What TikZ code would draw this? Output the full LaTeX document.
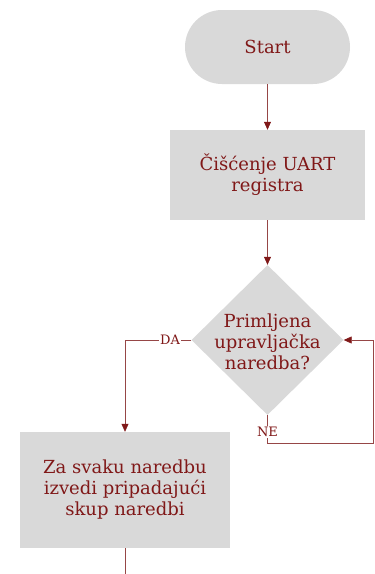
\documentclass[tikz,border=0pt]{standalone}
\usepackage{fontspec}
\setmainfont{DejaVu Serif}
\usetikzlibrary{shapes.geometric, arrows.meta}
\definecolor{wine}{RGB}{128,24,24}
\definecolor{wire}{RGB}{150,70,70}
\definecolor{boxgrey}{RGB}{217,217,217}

\begin{document}
\begin{tikzpicture} [x = 1pt, y = -1pt,
  block/.style = {fill=boxgrey, text=wine, align=center, font=\fontsize{18}{21}\selectfont},
  flow/.style = {draw=wire, line width=0.6pt},
  arr/.style = {flow, -{Triangle[length=8pt, width=7pt, color=wine]}},
  tag/.style = {fill=white, text=wine, inner sep=1pt, font=\fontsize{13}{15}\selectfont}]
\useasboundingbox (0, 0) rectangle (375, 574);
\node[block, minimum width=165pt, minimum height=74pt, rounded corners=37pt] (start) at (267.5, 47){Start};
\node[block, minimum width=195pt, minimum height=90pt] (clear) at (267.5, 175){Čišćenje UART\\registra};
\node[block, diamond, aspect=1, inner sep=0pt, minimum width=152pt, minimum height=150pt] (check) at (267.5, 340){};
\node[block, fill=none] (checktxt) at (267.5, 342){Primljena\\upravljačka\\naredba?};
\node[block, minimum width=210pt, minimum height=116pt] (exec) at (125, 490){Za svaku naredbu\\izvedi pripadajući\\skup naredbi};
\coordinate (loop) at (373, 443);
\coordinate (down) at (125, 574);
\draw[arr] (start) -- (clear);
\draw[arr] (clear) -- (check);
\draw[arr] (check.west) -| node[tag, pos=0.16]{DA} (exec.north);
\draw[arr] (check.south) |- node[tag, pos=0.3]{NE} (loop) |- (check.east);
\draw[flow] (exec) -- (down);
\end{tikzpicture}
\end{document}
